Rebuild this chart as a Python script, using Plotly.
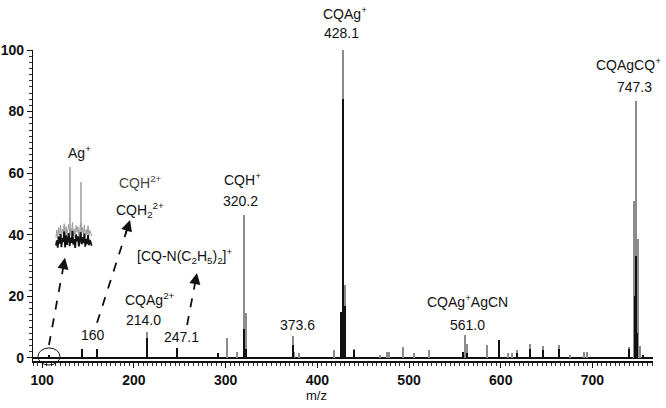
import plotly.graph_objects as go

# mass spectrum, two overlaid acquisitions (gray + black sticks)
gray_mz = [143, 160, 214.0, 247.1, 292, 302, 312, 320.2, 322, 373.6, 375, 380, 418,
           428.1, 430, 440, 468, 476, 478, 493, 506, 522, 559, 561.0, 563, 585, 598,
           608, 612, 618, 632, 646, 664, 676, 691, 694, 740, 745, 747.3, 749.5, 752]
gray_int = [2.0, 2.5, 8.5, 2.5, 1.0, 6.5, 2.0, 46.5, 14.5, 7.2, 2.0, 1.5, 2.5,
            100, 23.8, 2.8, 0.8, 2.0, 2.0, 3.5, 1.5, 2.5, 2.0, 7.5, 4.5, 4.3, 2.5,
            1.5, 1.5, 2.5, 4.5, 4.0, 4.3, 1.0, 2.0, 2.0, 3.5, 51, 83.5, 38.6, 4.0]

black_mz = [108, 143, 160, 214.0, 247.1, 292, 320.2, 322, 373.6, 426, 428.1, 430,
            440, 559, 563, 598, 618, 632, 646, 664, 740, 746, 747.3, 749, 755]
black_int = [1.0, 3.0, 3.0, 6.5, 3.3, 1.5, 9.5, 3.0, 4.2, 15, 84, 17,
             2.5, 2.0, 1.5, 5.8, 1.5, 3.0, 2.5, 3.0, 3.0, 20, 33, 8, 1.0]

# zoomed inset of the Ag+ region (drawn at 35-42 % level)
inset_mz = [115, 116, 117, 118, 119, 120, 121, 122, 123, 124, 125, 126, 127, 128,
            129, 130, 131, 132, 133, 134, 135, 136, 137, 138, 139, 140, 141, 142,
            143, 144, 145, 146, 147, 148, 149, 150, 151, 152, 153, 154]
inset_black = [36.5, 38.2, 35.8, 39.4, 37.1, 40.2, 36.0, 38.9, 37.6, 41.0, 35.9, 39.8,
               36.7, 38.4, 40.5, 36.3, 39.1, 37.4, 41.3, 36.8, 38.6, 35.7, 40.1, 37.9,
               39.5, 36.2, 38.0, 40.8, 36.9, 39.2, 37.3, 40.4, 36.1, 38.7, 37.0, 39.9,
               36.6, 38.3, 37.5, 36.4]
inset_gray = [39.0, 41.5, 38.6, 42.3, 40.0, 43.1, 39.2, 41.8, 40.4, 43.6, 39.1, 42.7,
              39.9, 41.6, 43.4, 39.5, 42.2, 40.6, 44.0, 39.8, 41.9, 38.9, 43.0, 40.8,
              42.6, 39.3, 41.1, 43.8, 40.1, 42.4, 40.3, 43.2, 39.4, 41.7, 40.0, 42.9,
              39.7, 41.4, 40.5, 39.6]
spike_mz = [130, 142.5]
spike_top = [62, 57]
spike_base = 40

fig = go.Figure()
fig.add_trace(go.Bar(x=gray_mz, y=gray_int, width=1.3, marker_color="#8c8c8c",
                     marker_line_width=0))
fig.add_trace(go.Bar(x=black_mz, y=black_int, width=1.3, marker_color="#111111",
                     marker_line_width=0))
fig.add_trace(go.Scatter(x=inset_mz, y=inset_gray, mode="lines",
                         line=dict(color="#9a9a9a", width=1)))
fig.add_trace(go.Bar(x=spike_mz, y=[t - spike_base for t in spike_top], base=spike_base,
                     width=0.9, marker_color="#b5b5b5", marker_line_width=0))
fig.add_trace(go.Scatter(x=inset_mz, y=inset_black, mode="lines",
                         line=dict(color="#111111", width=1.8)))

font = "Liberation Sans, Arial, sans-serif"

labels = [
    ("Ag<sup>+</sup>", 141, 67, "#111"),
    ("CQH<sup>2+</sup>", 207, 57, "#444"),
    ("CQH<sub>2</sub><sup>2+</sup>", 207, 48, "#111"),
    ("CQH<sup>+</sup>", 318, 58, "#111"),
    ("320.2", 316, 51, "#111"),
    ("[CQ-N(C<sub>2</sub>H<sub>5</sub>)<sub>2</sub>]<sup>+</sup>", 255, 33, "#111"),
    ("CQAg<sup>2+</sup>", 218, 19, "#111"),
    ("214.0", 211, 12.3, "#111"),
    ("160", 155, 7.5, "#111"),
    ("247.1", 252, 6.8, "#111"),
    ("373.6", 378, 10.7, "#111"),
    ("CQAg<sup>+</sup>AgCN", 564, 18.5, "#111"),
    ("561.0", 564, 10.7, "#111"),
    ("747.3", 746, 88, "#111"),
]
for text, x, y, c in labels:
    fig.add_annotation(x=x, y=y, text=text, showarrow=False,
                       font=dict(family=font, size=14, color=c))

# labels that sit above the plotting area
fig.add_annotation(x=0.503, y=1.155, xref="paper", yref="paper", text="CQAg<sup>+</sup>",
                   showarrow=False, font=dict(family=font, size=14, color="#111"))
fig.add_annotation(x=0.498, y=1.088, xref="paper", yref="paper", text="428.1",
                   showarrow=False, font=dict(family=font, size=14, color="#111"))
fig.add_annotation(x=1.016, y=0.99, xref="paper", yref="paper", xanchor="right",
                   text="CQAgCQ<sup>+</sup>", showarrow=False,
                   font=dict(family=font, size=14, color="#111"))

arrows = [((107.4, 4.2), (124.9, 32.5)),
          ((159.8, 11.4), (195.8, 44.8)),
          ((258.0, 10.7), (268.8, 27.6))]
for (tx, ty), (hx, hy) in arrows:
    fig.add_shape(type="line", x0=tx, y0=ty, x1=hx, y1=hy, xref="x", yref="y",
                  line=dict(color="#111", width=1.8, dash="dash"))
    fig.add_annotation(x=hx, y=hy, ax=hx - 0.15 * (hx - tx), ay=hy - 0.15 * (hy - ty),
                       axref="x", ayref="y", text="", showarrow=True,
                       arrowhead=2, arrowsize=1.4, arrowwidth=1.6, arrowcolor="#111")

# circle marking the Ag+ region
fig.add_shape(type="circle", xref="paper", yref="paper",
              x0=0.008, x1=0.0435, y0=-0.013, y1=0.042,
              line=dict(color="#111", width=1))

fig.add_annotation(x=0.458, y=-0.14, xref="paper", yref="paper",
                   text="m/z", showarrow=False,
                   font=dict(family=font, size=13, color="#111"))

fig.update_layout(
    width=666, height=408,
    margin=dict(l=33, r=13, t=50, b=47),
    paper_bgcolor="white", plot_bgcolor="white",
    barmode="overlay", showlegend=False, bargap=0,
    font=dict(family=font, size=14, color="#111"),
    xaxis=dict(range=[90, 766], tickvals=[100, 200, 300, 400, 500, 600, 700],
               ticks="outside", ticklen=5, tickwidth=1.2, tickcolor="#111",
               minor=dict(dtick=5, ticklen=3, tickcolor="#333", ticks="outside"),
               showline=True, linecolor="#111", linewidth=1.5, showgrid=False,
               zeroline=False, automargin=False,
               tickfont=dict(size=14, weight="bold")),
    yaxis=dict(range=[-1, 100], tickvals=[0, 20, 40, 60, 80, 100],
               ticks="outside", ticklen=5, tickwidth=1.2, tickcolor="#111",
               minor=dict(dtick=2, ticklen=3, tickcolor="#333", ticks="outside"),
               showline=True, linecolor="#111", linewidth=1.2, showgrid=False,
               zeroline=True, zerolinecolor="#111", zerolinewidth=1.5,
               automargin=False, tickfont=dict(size=14, weight="bold")),
)

# drop the default page margin so the figure sits at the window's corner
fig.write_html("out.html", config={"displayModeBar": False},
               post_script="document.body.style.margin='0';")
